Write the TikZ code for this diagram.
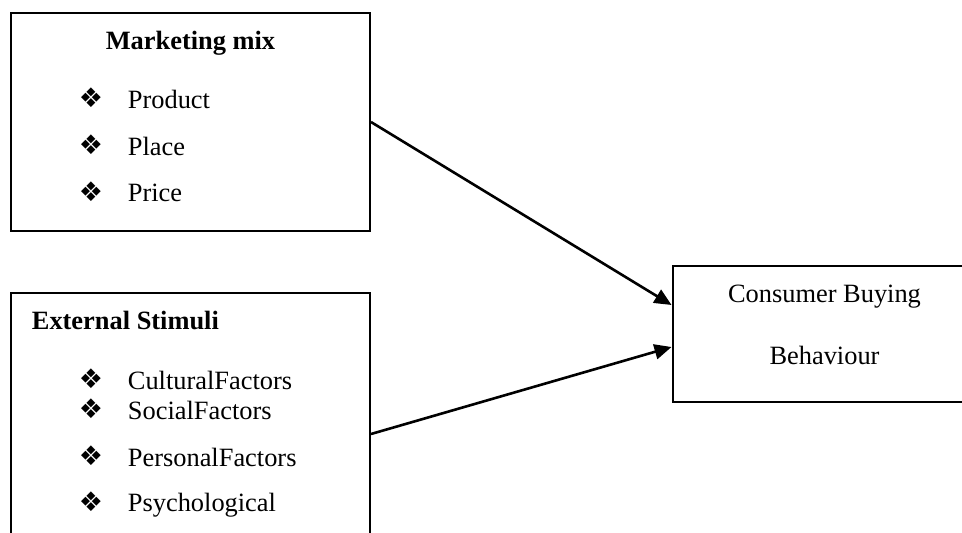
\documentclass[tikz,border=0pt]{standalone}
\usepackage{fontspec}
\setmainfont{Liberation Serif}
\newfontfamily\symfont{DejaVu Sans}
\usetikzlibrary{arrows.meta,calc}
\tikzset{
  box/.style={draw=black, line width=2pt, rectangle, inner sep=0pt},
  txt/.style={inner sep=0pt, anchor=base west, font=\fontsize{26.4}{30}\selectfont},
  ttl/.style={inner sep=0pt, anchor=base, font=\fontsize{26.4}{30}\selectfont\bfseries},
  ctr/.style={inner sep=0pt, anchor=base, font=\fontsize{26.4}{30}\selectfont},
  bul/.style={inner sep=0pt, anchor=center, font=\symfont\fontsize{27}{29}\selectfont},
  conn/.style={line width=2.6pt, -{Triangle[length=17pt,width=15pt]}},
}
\begin{document}
\begin{tikzpicture}[x=1pt,y=-1pt]
\useasboundingbox (0,0) rectangle (962,533);
\clip (0,0) rectangle (962,533);
% boxes
\node[box, minimum width=359pt, minimum height=218.5pt] (mm) at (190.5,122) {};
\node[box, minimum width=359pt, minimum height=283pt] (es) at (190.5,434) {};
\node[box, minimum width=305pt, minimum height=136pt] (cb) at (825,334) {};
% marketing mix text
\node[ttl] (mmt) at (190.5,49) {Marketing mix};
\node[bul] (b1) at (91,98) {❖};
\node[txt] (t1) at (127.7,108.5) {Product};
\node[bul] (b2) at (91,145) {❖};
\node[txt] (t2) at (127.7,155) {Place};
\node[bul] (b3) at (91,191.5) {❖};
\node[txt] (t3) at (127.7,201.5) {Price};
% external stimuli text
\node[txt, font=\fontsize{26.4}{30}\selectfont\bfseries] (est) at (31.7,329) {External Stimuli};
\node[bul] (b4) at (91,379) {❖};
\node[txt] (t4) at (127.7,389) {CulturalFactors};
\node[bul] (b5) at (91,409) {❖};
\node[txt] (t5) at (127.7,419) {SocialFactors};
\node[bul] (b6) at (91,456) {❖};
\node[txt] (t6) at (127.7,466) {PersonalFactors};
\node[bul] (b7) at (91,501.5) {❖};
\node[txt] (t7) at (127.7,511.5) {Psychological};
% consumer text
\node[ctr] (c1) at (824.5,302.7) {Consumer Buying};
\node[ctr] (c2) at (824.5,364) {Behaviour};
% connectors
\draw[conn] (mm.east) -- ($(cb.west)+(0,-29)$);
\draw[conn] (es.east) -- ($(cb.west)+(0,13)$);
\end{tikzpicture}
\end{document}
